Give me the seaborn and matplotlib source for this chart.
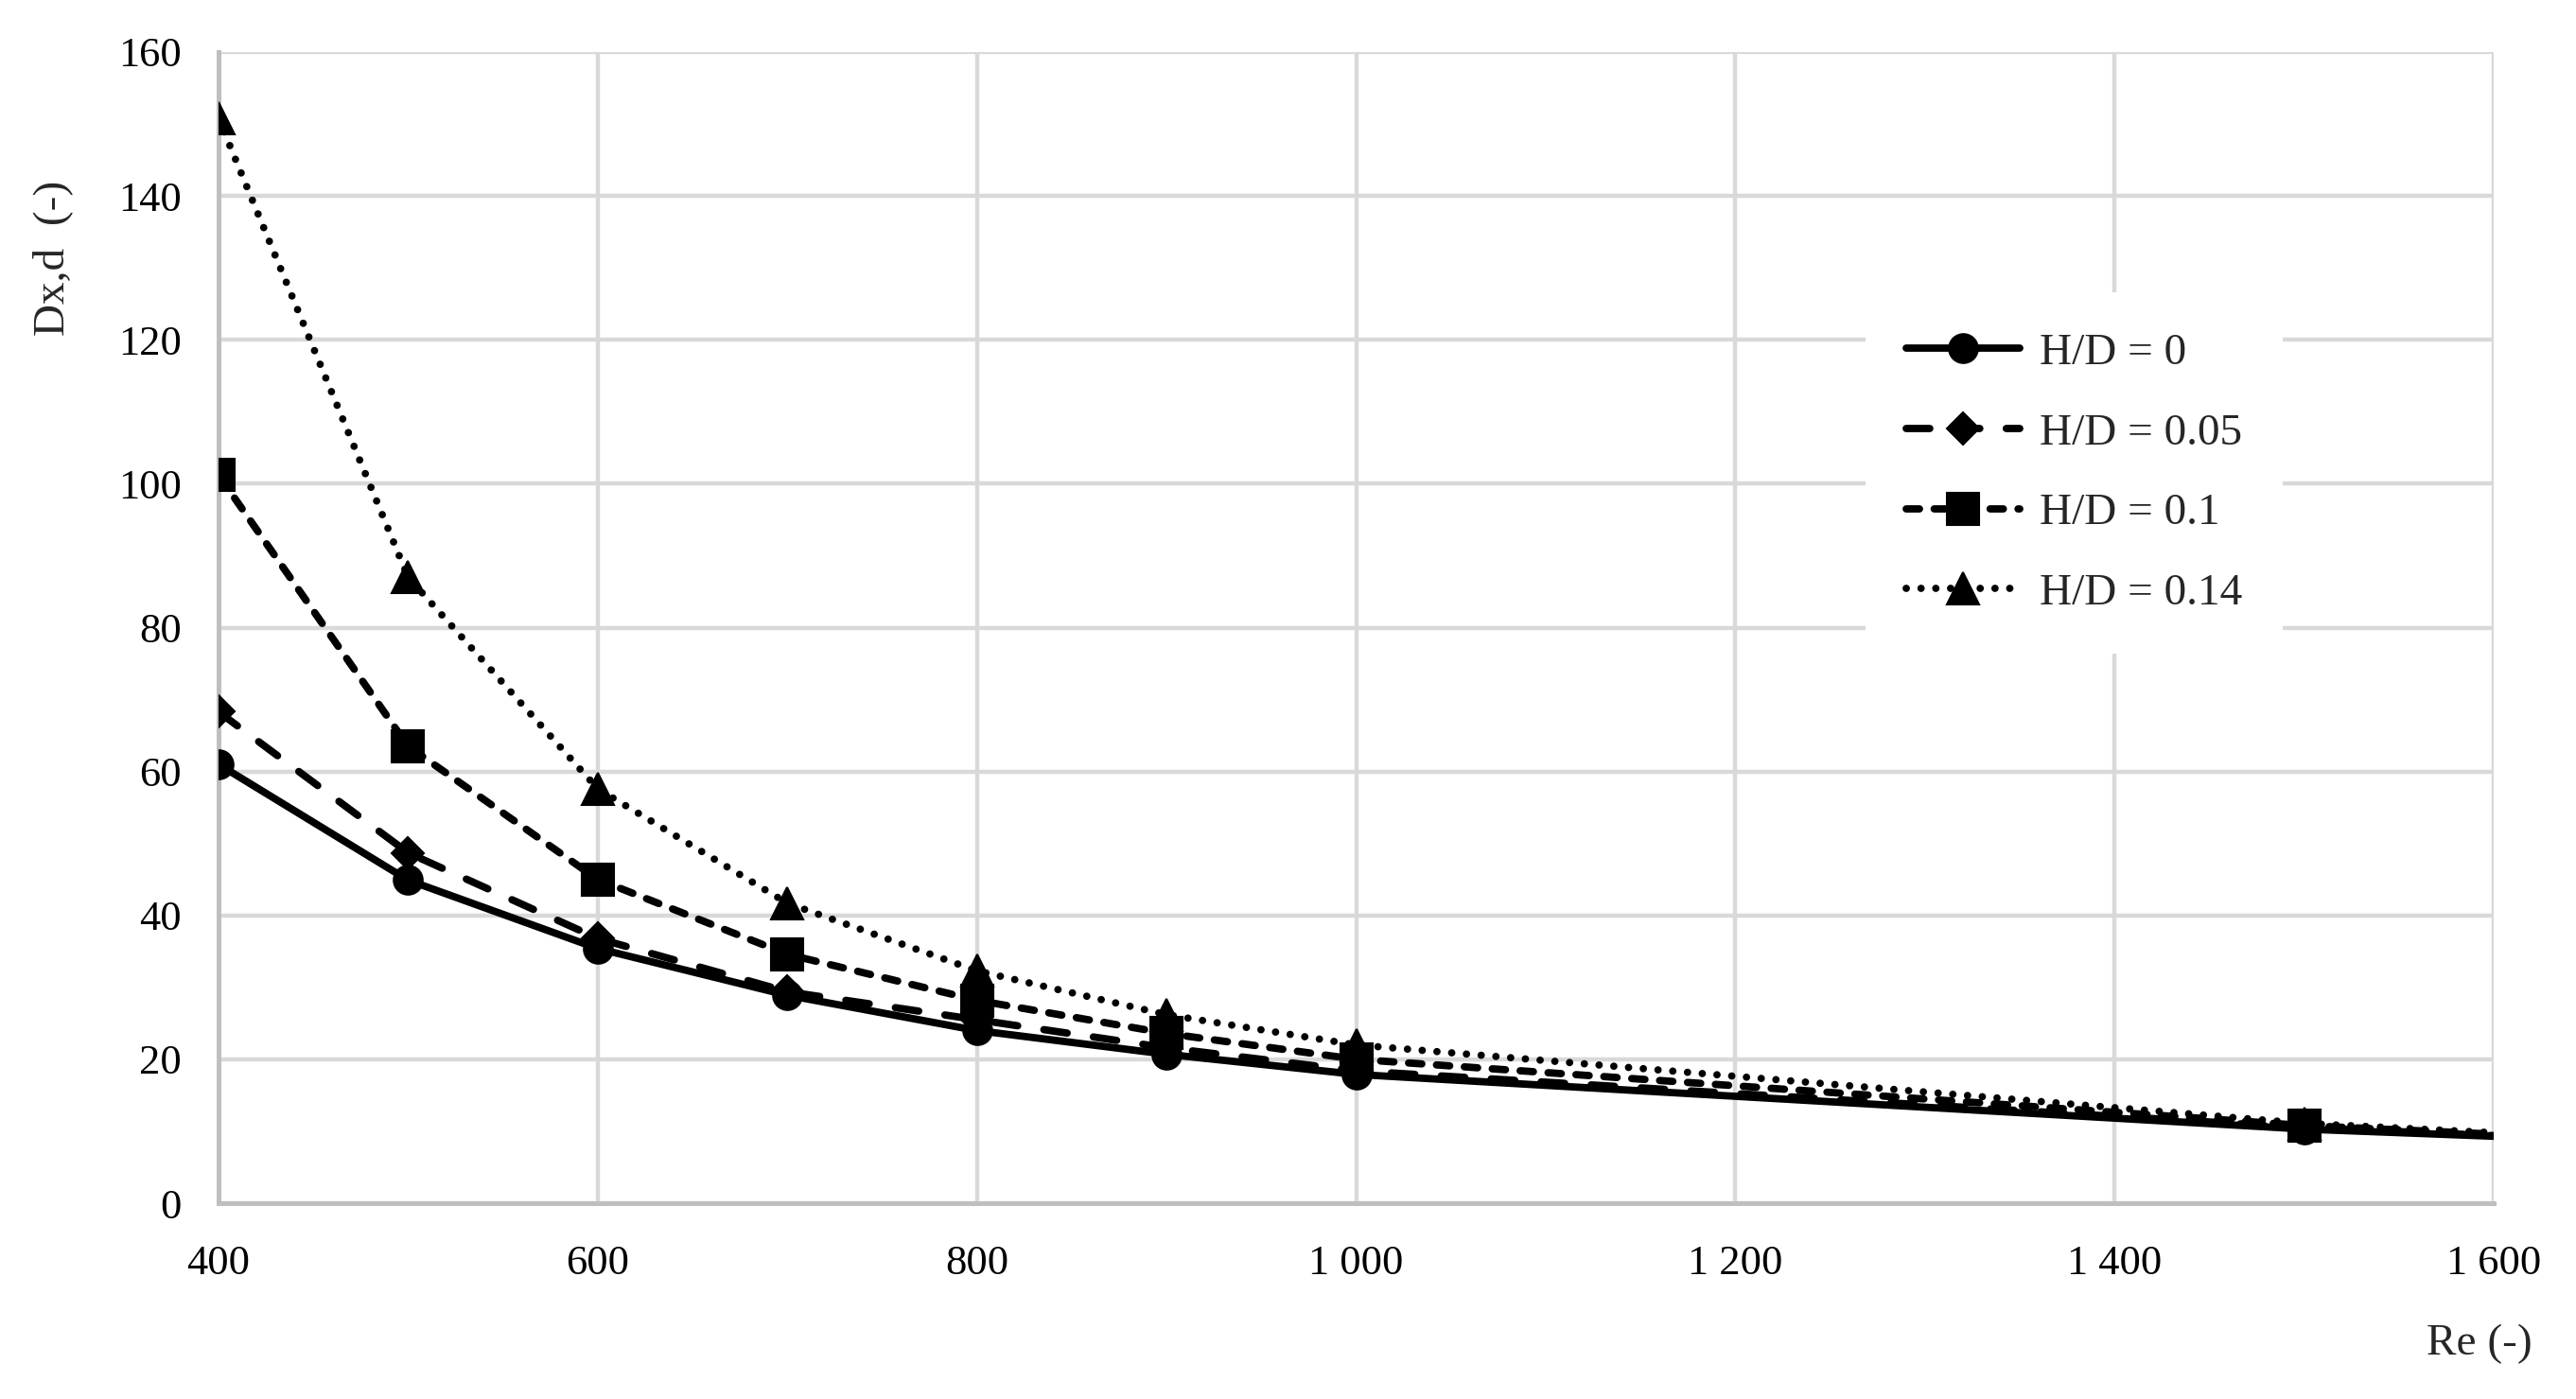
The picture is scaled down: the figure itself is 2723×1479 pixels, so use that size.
import numpy as np
import pandas as pd
import matplotlib
matplotlib.use("Agg")
import matplotlib.pyplot as plt
from matplotlib.ticker import FuncFormatter, MultipleLocator
import seaborn as sns

# data
re_values = [400, 500, 600, 700, 800, 900, 1000, 1500, 1600]
hd_0 = [61.0, 44.9, 35.4, 28.9, 24.0, 20.7, 17.9, 10.3, 9.3]
hd_005 = [68.3, 48.7, 36.8, 29.4, 25.5, 21.6, 18.4, 10.5, 9.4]
hd_01 = [101.2, 63.5, 45.0, 34.6, 28.2, 23.6, 20.0, 10.8, 9.6]
hd_014 = [150.8, 87.0, 57.6, 41.7, 32.3, 26.2, 22.0, 11.1, 9.8]

labels = ["H/D = 0", "H/D = 0.05", "H/D = 0.1", "H/D = 0.14"]
series = [hd_0, hd_005, hd_01, hd_014]

styles = [
    dict(marker="o", markersize=11, linestyle="-"),
    dict(marker="D", markersize=8.5, dashes=(3.2, 3.6)),
    dict(marker="s", markersize=12, dashes=(1.8, 2.0)),
    dict(marker="^", markersize=12.5, dashes=(0.01, 2.0)),
]

sns.set_style("white")
plt.rcParams["font.family"] = ["Liberation Serif", "DejaVu Serif"]
plt.rcParams["lines.dash_capstyle"] = "round"
plt.rcParams["lines.solid_capstyle"] = "round"

fig = plt.figure(figsize=(2723 / 200, 1479 / 200), dpi=200)
ax = fig.add_axes([231 / 2723, 1 - 1272 / 1479, 2405 / 2723, 1217 / 1479])

for lab, vals, st in zip(labels, series, styles):
    df = pd.DataFrame({"Re": re_values, "Dxd": vals})
    sns.lineplot(data=df, x="Re", y="Dxd", ax=ax, color="black", linewidth=2.8,
                 label=lab, markevery=list(range(len(re_values) - 1)),
                 markeredgecolor="black", markerfacecolor="black", zorder=3, **st)

ax.set_xlim(400, 1600)
ax.set_ylim(0, 160)
ax.xaxis.set_major_locator(MultipleLocator(200))
ax.yaxis.set_major_locator(MultipleLocator(20))
ax.xaxis.set_major_formatter(FuncFormatter(lambda v, p: f"{int(v):,}".replace(",", " ")))

ax.grid(True, color="#D9D9D9", linewidth=1.6)
ax.set_axisbelow(True)
for side in ["top", "right"]:
    ax.spines[side].set_visible(False)
for side in ["left", "bottom"]:
    ax.spines[side].set_color("#BFBFBF")
    ax.spines[side].set_linewidth(1.8)

ax.tick_params(axis="both", length=0, labelsize=16, colors="black")
ax.tick_params(axis="y", pad=14)
ax.tick_params(axis="x", pad=16)

ax.set_ylabel("Dx,d  (-)", fontsize=17)
ax.yaxis.set_label_coords(-0.064, 0.821)
ax.set_xlabel("Re (-)", fontsize=17, ha="right")
ax.xaxis.set_label_coords(1.017, -0.105)

leg = ax.legend(loc="upper left", bbox_to_anchor=(0.724, 0.791), frameon=True,
                fontsize=17, handlelength=2.55, handletextpad=0.45,
                labelspacing=0.88, borderpad=0.9, borderaxespad=0)
leg.get_frame().set_facecolor("white")
leg.get_frame().set_edgecolor("none")
leg.get_frame().set_alpha(1)
leg.get_frame().set_boxstyle("square", pad=0)

fig.savefig("out.png", dpi=200, facecolor="white")
